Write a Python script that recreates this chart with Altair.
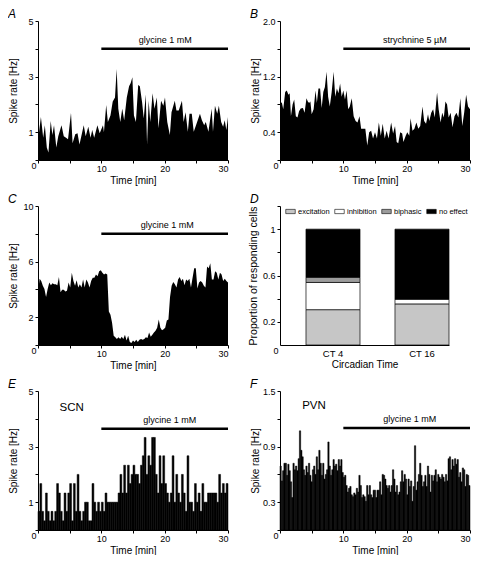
import altair as alt
import pandas as pd

FONT = "Liberation Sans"
W = 190      # width of a time-course panel
WD = 169     # width of panel D
H = 139      # height of every panel

# ---------------- data ----------------
TIME_A = [0.0, 0.46, 0.82, 1.08, 1.39, 1.65, 2.01, 2.27, 2.53, 2.89, 3.2, 3.71, 4.07, 4.43, 4.74,
          5.21, 5.46, 5.88, 6.24, 6.55, 7.22, 7.53, 7.94, 8.3, 8.56, 8.87, 9.38, 9.74, 10.26, 10.41,
          10.77, 11.03, 11.44, 11.8, 12.16, 12.42, 12.68, 12.99, 13.3, 13.61, 14.02, 14.38, 14.64,
          14.9, 15.15, 15.46, 15.82, 16.08, 16.44, 16.7, 17.01, 17.22, 17.47, 17.73, 18.09, 18.4,
          18.76, 19.02, 19.43, 19.79, 20.05, 20.41, 20.82, 21.08, 21.6, 21.86, 22.22, 22.73, 22.99,
          23.3, 23.66, 23.92, 24.28, 24.59, 24.95, 25.57, 25.88, 26.24, 26.49, 26.91, 27.42, 27.63,
          27.94, 28.3, 28.56, 28.92, 29.23, 29.48, 29.74, 30.0]
RATE_A = [0.7, 1.55, 0.8, 1.25, 0.45, 0.27, 1.4, 0.9, 1.25, 0.45, 0.85, 1.25, 0.85, 0.8, 0.75,
          1.7, 0.6, 0.93, 0.96, 0.56, 1.25, 0.85, 1.2, 0.8, 1.08, 0.8, 1.25, 0.96, 1.25, 1.0,
          1.98, 1.37, 1.6, 2.1, 2.25, 3.27, 1.84, 1.37, 1.84, 1.43, 2.25, 2.65, 2.77,
          2.98, 1.6, 1.37, 2.7, 2.65, 2.07, 1.49, 2.36, 0.56, 2.13, 1.37, 2.4, 1.84,
          2.25, 1.14, 2.13, 1.95, 2.25, 1.37, 0.9, 1.72, 2.13, 1.78, 1.78, 2.13, 1.37,
          1.72, 1.02, 1.66, 1.66, 1.02, 1.25, 1.66, 1.43, 1.25, 1.37, 1.02, 1.84, 1.02,
          1.95, 1.66, 1.95, 1.37, 1.2, 1.43, 1.08, 1.55]

TIME_B = [0.0, 0.31, 0.51, 0.82, 1.07, 1.33, 1.53, 1.73, 1.99, 2.24,
          2.5, 2.76, 3.01, 3.27, 3.62, 3.88, 4.18, 4.39, 4.59, 4.8,
          5.0, 5.31, 5.61, 5.82, 6.07, 6.33, 6.58, 6.84, 7.09, 7.35,
          7.6, 7.86, 8.16, 8.47, 8.72, 8.98, 9.23, 9.49, 9.74, 10.0,
          10.26, 10.51, 10.77, 11.02, 11.33, 11.63, 11.94, 12.24, 12.55, 12.81,
          13.11, 13.47, 13.78, 14.08, 14.39, 14.69, 15.0, 15.31, 15.61, 15.92,
          16.22, 16.53, 16.84, 17.14, 17.55, 17.86, 18.16, 18.42, 18.67, 18.98,
          19.29, 19.49, 19.85, 20.1, 20.41, 20.61, 20.92, 21.22, 21.53, 21.84,
          22.14, 22.5, 22.76, 23.06, 23.37, 23.57, 23.88, 24.18, 24.44, 24.8,
          25.05, 25.36, 25.61, 25.87, 26.12, 26.38, 26.63, 26.94, 27.24, 27.55,
          27.86, 28.16, 28.47, 28.78, 29.08, 29.39, 29.69, 30.0]
RATE_B = [0.84, 0.82, 0.73, 0.98, 1.0, 0.94, 0.96, 0.63, 0.8, 0.87,
          0.63, 0.61, 0.7, 0.74, 0.75, 0.68, 0.89, 0.84, 0.82, 0.84,
          0.66, 0.73, 1.0, 0.82, 1.03, 1.03, 0.75, 0.98, 1.05, 1.27,
          0.91, 0.77, 0.98, 1.27, 0.91, 1.03, 0.96, 1.1, 0.91, 1.0,
          0.87, 1.0, 0.73, 0.77, 0.89, 0.63, 0.56, 0.54, 0.63, 0.45,
          0.45, 0.45, 0.21, 0.4, 0.42, 0.31, 0.4, 0.31, 0.54, 0.35,
          0.52, 0.31, 0.42, 0.31, 0.54, 0.38, 0.49, 0.26, 0.24, 0.4,
          0.38, 0.26, 0.35, 0.4, 0.35, 0.6, 0.42, 0.45, 0.54, 0.45,
          0.49, 0.77, 0.56, 0.52, 0.66, 0.56, 0.68, 0.73, 0.61, 0.97,
          0.73, 0.54, 0.68, 0.61, 0.84, 0.8, 0.61, 0.68, 0.47, 0.63,
          0.68, 0.61, 0.89, 0.49, 0.68, 0.94, 0.77, 0.73]

# panel C: samples evenly spaced over 0-30 min
RATE_C = [3.8, 4.77, 4.6, 4.26, 4.03, 3.45, 4.03, 4.49, 4.3, 4.44,
          4.37, 4.37, 4.3, 4.9, 3.8, 3.98, 3.98, 3.84, 3.91, 4.49,
          4.14, 5.19, 4.6, 4.26, 4.65, 4.14, 4.37, 4.14, 4.72, 4.14,
          4.72, 4.49, 4.14, 4.6, 4.84, 4.84, 5.07, 4.95, 5.3, 5.37,
          5.19, 5.07, 5.14, 5.07, 2.41, 2.18, 1.6, 0.67, 0.56, 0.44,
          0.56, 0.44, 0.6, 0.44, 0.74, 0.32, 0.67, 0.21, 0.14, 0.32,
          0.21, 0.37, 0.21, 0.37, 0.44, 0.37, 0.44, 0.56, 0.51, 0.9,
          0.6, 0.74, 0.9, 1.02, 1.25, 1.83, 1.25, 1.06, 1.13, 1.25,
          1.76, 1.83, 3.45, 4.26, 4.54, 4.37, 4.14, 4.72, 4.9, 4.6,
          4.77, 4.3, 4.72, 4.6, 4.77, 4.14, 4.84, 5.53, 5.53, 4.07,
          4.49, 4.6, 4.49, 4.26, 4.14, 5.65, 5.53, 5.88, 4.72, 4.72,
          5.3, 5.19, 4.72, 5.19, 5.07, 4.6, 4.77, 4.6, 4.49]

# panel E: consecutive equal-width bins over 0-30 min
RATE_E = [0.67, 1.67, 0.67, 0.33, 1.33, 0.67, 0.33, 0.67, 0.33, 0.67,
          1.67, 1.33, 0.67, 0.33, 1.33, 0.67, 1.33, 1.67, 0.33, 1.67,
          0.67, 2.0, 0.67, 0.33, 0.67, 1.0, 1.0, 0.33, 0.33, 1.67,
          1.0, 0.67, 1.0, 0.67, 1.0, 0.67, 1.33, 1.0, 1.0, 1.0,
          1.0, 1.0, 1.0, 1.33, 2.0, 1.33, 2.33, 1.33, 2.33, 1.67,
          2.0, 2.33, 2.0, 2.0, 1.67, 2.33, 2.67, 3.33, 2.0, 2.67,
          2.33, 3.33, 3.33, 2.0, 1.33, 2.67, 1.67, 2.67, 1.67, 1.33,
          1.0, 1.33, 2.67, 1.0, 2.0, 1.33, 1.0, 2.0, 1.33, 0.67,
          2.67, 1.0, 1.0, 0.67, 1.67, 1.0, 1.33, 0.67, 1.67, 1.0,
          1.0, 1.33, 1.33, 1.33, 1.33, 1.33, 1.0, 2.0, 1.33, 1.67,
          1.33, 1.67]

# panel F: consecutive equal-width bins over 0-30 min
RATE_F = [0.69, 0.53, 0.64, 0.72, 0.72, 0.59, 0.71, 0.64, 0.52, 0.35,
          0.72, 0.65, 0.69, 0.64, 0.77, 1.07, 0.86, 0.79, 0.65, 0.59,
          0.69, 0.62, 0.72, 0.59, 0.52, 0.65, 0.69, 0.6, 0.79, 0.65,
          0.86, 0.72, 0.59, 0.72, 0.55, 0.6, 0.65, 0.95, 0.69, 0.59,
          0.65, 0.76, 0.69, 0.71, 0.64, 0.76, 0.69, 0.76, 0.62, 0.57,
          0.59, 0.48, 0.41, 0.45, 0.47, 0.38, 0.36, 0.4, 0.38, 0.45,
          0.41, 0.59, 0.48, 0.35, 0.38, 0.36, 0.31, 0.48, 0.38, 0.48,
          0.38, 0.35, 0.43, 0.43, 0.35, 0.43, 0.43, 0.52, 0.38, 0.6,
          0.59, 0.55, 0.48, 0.45, 0.48, 0.41, 0.48, 0.65, 0.55, 0.41,
          0.48, 0.38, 0.41, 0.52, 0.64, 0.52, 0.6, 0.55, 0.38, 0.55,
          0.47, 0.53, 0.31, 0.47, 0.91, 0.43, 0.52, 0.6, 0.72, 0.59,
          0.47, 0.52, 0.59, 0.47, 0.69, 0.6, 0.41, 0.59, 0.53, 0.59,
          0.65, 0.52, 0.6, 0.57, 0.55, 0.6, 0.57, 0.52, 0.6, 0.53,
          0.77, 0.79, 0.65, 0.76, 0.69, 0.77, 0.71, 0.76, 0.57, 0.62,
          0.52, 0.67, 0.65, 0.47, 0.6, 0.59, 0.48]

# drug application bars: start, end, level, label position, label
DRUG_START = [10, 10, 10, 10, 10]
DRUG_END = [30, 30, 30, 30, 30]
DRUG_LEVEL = [4.0, 1.6, 8.0, 3.64, 1.1]
DRUG_LABEL_X = [20.1, 21.3, 20.4, 20.8, 20.5]
DRUG_LABELS = ["glycine 1 mM", "strychnine 5 µM", "glycine 1 mM", "glycine 1 mM", "glycine 1 mM"]

REGION_LABELS = ["SCN", "PVN"]
REGION_X = [3.4, 3.5]
REGION_Y = [4.4, 1.34]

LETTERS = ["A", "B", "C", "D", "E", "F"]
ZERO_LABEL = "0"

# panel D
CT_LABELS = ["CT 4", "CT 16"]
RESPONSES = ["excitation", "inhibition", "biphasic", "no effect"]
RESP_COLORS = ["#c6c6c6", "#ffffff", "#9c9c9c", "#000000"]
CT4_FRACTIONS = [0.305, 0.235, 0.045, 0.415]
CT16_FRACTIONS = [0.355, 0.04, 0.0, 0.605]

# ---------------- helpers ----------------
def label_expr(values, fmt):
    cond = " || ".join(f"datum.value == {v}" for v in values)
    return f"({cond}) ? format(datum.value, '{fmt}') : ''"


def x_time():
    return alt.X("t:Q", scale=alt.Scale(domain=[0, 30], nice=False, zero=True),
                 axis=alt.Axis(values=[0, 5, 10, 15, 20, 25, 30],
                               labelExpr="(datum.value == 10 || datum.value == 20 || datum.value == 30) ? datum.label : ''",
                               title="Time [min]", titlePadding=2))


def y_rate(ymax, ticks, labels, fmt):
    return alt.Y("rate:Q", scale=alt.Scale(domain=[0, ymax], nice=False, zero=True),
                 axis=alt.Axis(values=ticks, labelExpr=label_expr(labels, fmt),
                               title="Spike rate [Hz]", titleX=-20, titleY=H / 2, labelPadding=2))


def letter_layer(letter):
    return alt.Chart(pd.DataFrame({"letter": [letter]})).mark_text(
        font=FONT, fontSize=12, fontStyle="italic", align="left", baseline="middle"
    ).encode(x=alt.value(-30), y=alt.value(-7), text="letter:N")


def zero_layer():
    return alt.Chart(pd.DataFrame({"z": [ZERO_LABEL]})).mark_text(
        font=FONT, fontSize=9, align="center", baseline="middle"
    ).encode(x=alt.value(-4), y=alt.value(H + 6), text="z:N")


def extras(i, ymax, ticks, labels, fmt, letter):
    drug = pd.DataFrame({"t": [DRUG_START[i]], "t2": [DRUG_END[i]], "rate": [DRUG_LEVEL[i]]})
    lab = pd.DataFrame({"t": [DRUG_LABEL_X[i]], "rate": [DRUG_LEVEL[i]], "txt": [DRUG_LABELS[i]]})
    rule = alt.Chart(drug).mark_rule(color="black", strokeWidth=2.5).encode(
        x=x_time(), x2="t2:Q", y=y_rate(ymax, ticks, labels, fmt))
    txt = alt.Chart(lab).mark_text(font=FONT, fontSize=9, dy=-9, baseline="middle").encode(
        x=x_time(), y=y_rate(ymax, ticks, labels, fmt), text="txt:N")
    return [rule, txt, letter_layer(letter), zero_layer()]


def region_layer(j, ymax, ticks, labels, fmt):
    df = pd.DataFrame({"t": [REGION_X[j]], "rate": [REGION_Y[j]], "txt": [REGION_LABELS[j]]})
    return alt.Chart(df).mark_text(font=FONT, fontSize=11.5, align="left", baseline="middle").encode(
        x=x_time(), y=y_rate(ymax, ticks, labels, fmt), text="txt:N")


TRACE_LETTERS = [LETTERS[0], LETTERS[1], LETTERS[2], LETTERS[4], LETTERS[5]]


def area_panel(i, times, rates, ymax, ticks, labels, fmt):
    df = pd.DataFrame({"t": times, "rate": rates})
    area = alt.Chart(df).mark_area(color="black", interpolate="linear").encode(
        x=x_time(), y=y_rate(ymax, ticks, labels, fmt))
    return alt.layer(area, *extras(i, ymax, ticks, labels, fmt, TRACE_LETTERS[i])
                     ).properties(width=W, height=H)


def bin_panel(i, rates, ymax, ticks, labels, fmt, region_idx):
    n = len(rates)
    w = 30.0 / n
    df = pd.DataFrame({"t": [k * w for k in range(n)], "t2": [(k + 1) * w for k in range(n)], "rate": rates})
    bars = alt.Chart(df).mark_rect(color="black", stroke="black", strokeWidth=0.5).encode(
        x=x_time(), x2="t2:Q", y=y_rate(ymax, ticks, labels, fmt), y2=alt.datum(0))
    return alt.layer(bars, region_layer(region_idx, ymax, ticks, labels, fmt),
                     *extras(i, ymax, ticks, labels, fmt, TRACE_LETTERS[i])
                     ).properties(width=W, height=H)


panel_a = area_panel(0, TIME_A, RATE_A, 5, [0, 1, 2, 3, 4, 5], [1, 3, 5], ".0f")
panel_b = area_panel(1, TIME_B, RATE_B, 2.0, [0, 0.4, 0.8, 1.2, 1.6, 2.0], [0.4, 1.2, 2.0], ".1f")
TIME_C = [30.0 * k / (len(RATE_C) - 1) for k in range(len(RATE_C))]
panel_c = area_panel(2, TIME_C, RATE_C, 10, [0, 2, 4, 6, 8, 10], [2, 6, 10], ".0f")
panel_e = bin_panel(3, RATE_E, 5, [0, 1, 2, 3, 4, 5], [1, 3, 5], ".0f", 0)
panel_f = bin_panel(4, RATE_F, 1.5, [0, 0.3, 0.6, 0.9, 1.2, 1.5], [0.3, 0.9, 1.5], ".1f", 1)

# ---------------- panel D ----------------
rows = []
for ct, fr in zip(CT_LABELS, [CT4_FRACTIONS, CT16_FRACTIONS]):
    for k, (resp, v) in enumerate(zip(RESPONSES, fr)):
        if v > 0:
            rows.append({"ct": ct, "response": resp, "value": v, "order": k})
dfd = pd.DataFrame(rows)

bars_d = alt.Chart(dfd).mark_bar(stroke="black", strokeWidth=0.7).encode(
    x=alt.X("ct:N", sort=CT_LABELS,
            scale=alt.Scale(paddingInner=0.393, paddingOuter=0.146, align=1),
            axis=alt.Axis(title="Circadian Time", labelAngle=0, ticks=False, labelPadding=3,
                          labelFontSize=9.5, titlePadding=2)),
    y=alt.Y("value:Q", stack="zero", scale=alt.Scale(domain=[0, 1.2], nice=False),
            axis=alt.Axis(values=[0.2, 0.4, 0.6, 0.8, 1.0, 1.2], labelExpr=label_expr([0.2, 0.6, 1.0], "~g"),
                          title="Proportion of responding cells", titleX=-22, titleY=H / 2,
                          titleFontSize=10.5, labelPadding=2)),
    color=alt.Color("response:N", sort=RESPONSES,
                    scale=alt.Scale(domain=RESPONSES, range=RESP_COLORS),
                    legend=alt.Legend(title=None, orient="none", legendX=5, legendY=0,
                                      direction="horizontal",
                                      symbolType="M-1,-0.45L1,-0.45L1,0.45L-1,0.45Z",
                                      symbolSize=90, symbolStrokeColor="black",
                                      symbolStrokeWidth=0.6, symbolOpacity=1,
                                      labelFont=FONT, labelFontSize=7.5, labelColor="black",
                                      labelOffset=2, columnPadding=3, padding=0)),
    order=alt.Order("order:Q", sort="ascending"),
)
panel_d = alt.layer(bars_d, letter_layer("D"), zero_layer()).properties(width=WD, height=H)

chart = alt.concat(panel_a, panel_b, panel_c, panel_d, panel_e, panel_f, columns=2,
                   spacing={"row": 46, "column": 52}).properties(
    bounds="flush", padding=0
).resolve_legend(color="independent").resolve_scale(color="independent").configure(
    font=FONT
).configure_view(stroke=None).configure_axis(
    domainColor="black", tickColor="black", labelColor="black", titleColor="black",
    labelFontSize=9, titleFontSize=10, titleFontWeight="normal", tickSize=3,
    labelPadding=1, grid=False, labelFont=FONT, titleFont=FONT, domainWidth=1, tickWidth=1
)

chart.save("out.html", embed_options={"renderer": "svg", "actions": False})
